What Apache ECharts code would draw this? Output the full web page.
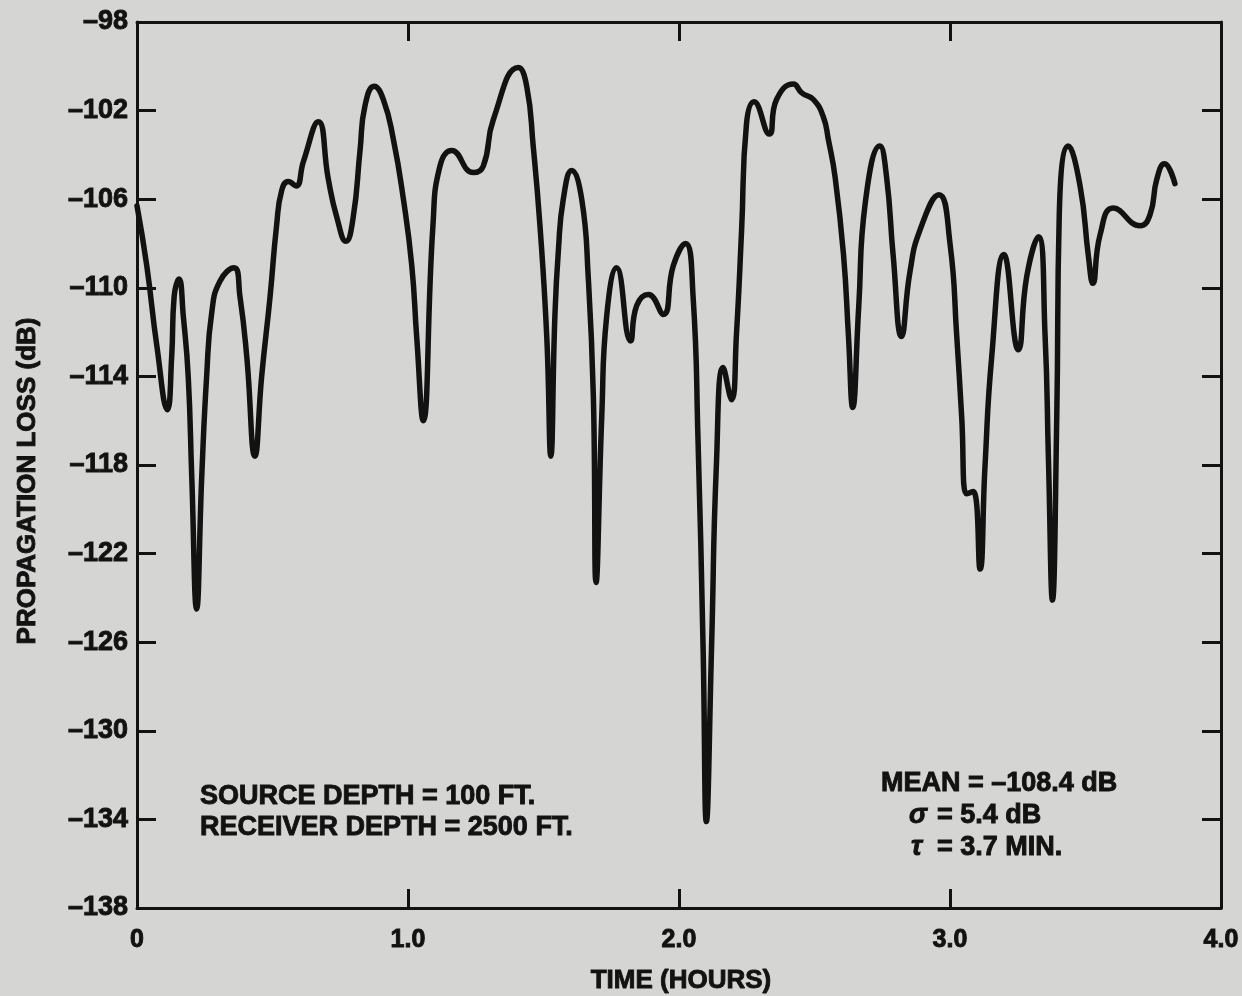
<!DOCTYPE html>
<html>
<head>
<meta charset="utf-8">
<title>Propagation Loss vs Time</title>
<script src="https://cdn.jsdelivr.net/npm/echarts@6/dist/echarts.min.js"></script>
<style>
  html, body { margin: 0; padding: 0; background: #d5d5d3; }
  #chart { width: 1242px; height: 996px; }
</style>
</head>
<body>
<div id="chart"></div>
<script>
// Time axis (hours) and measured propagation loss (dB)
const timeHours = [
  0.000, 0.036, 0.073, 0.112, 0.128, 0.137, 0.155, 0.171, 0.189, 0.202,
  0.220, 0.239, 0.257, 0.276, 0.306, 0.358, 0.380, 0.405, 0.435, 0.460,
  0.491, 0.515, 0.534, 0.558, 0.587, 0.614, 0.669, 0.706, 0.737, 0.771,
  0.798, 0.823, 0.841, 0.875, 0.909, 0.946, 0.983, 1.014, 1.032, 1.056,
  1.092, 1.118, 1.161, 1.241, 1.278, 1.315, 1.407, 1.438, 1.462, 1.487,
  1.512, 1.527, 1.542, 1.555, 1.573, 1.604, 1.641, 1.665, 1.684, 1.694,
  1.715, 1.733, 1.770, 1.821, 1.844, 1.887, 1.942, 1.979, 2.024, 2.052,
  2.070, 2.089, 2.101, 2.120, 2.138, 2.163, 2.194, 2.212, 2.231, 2.249,
  2.277, 2.333, 2.360, 2.422, 2.453, 2.496, 2.533, 2.551, 2.576, 2.607,
  2.625, 2.641, 2.663, 2.687, 2.741, 2.766, 2.790, 2.821, 2.852, 2.889,
  2.959, 3.000, 3.025, 3.043, 3.061, 3.086, 3.111, 3.129, 3.154, 3.199,
  3.252, 3.283, 3.326, 3.351, 3.363, 3.378, 3.394, 3.403, 3.437, 3.480,
  3.511, 3.527, 3.554, 3.603, 3.701, 3.738, 3.763, 3.791, 3.830
];
const lossDb = [
  -106.3, -109.0, -112.6, -115.5, -113.1, -110.4, -109.6, -111.3, -114.0, -118.5,
  -124.5, -118.5, -114.0, -111.1, -109.7, -109.1, -110.4, -113.1, -117.6, -114.0,
  -110.4, -107.2, -105.6, -105.2, -105.4, -104.3, -102.5, -105.1, -106.8, -107.9,
  -106.8, -103.8, -101.8, -100.9, -101.5, -103.3, -106.0, -109.0, -112.2, -116.0,
  -107.2, -104.5, -103.8, -104.8, -104.5, -102.4, -100.05, -100.9, -103.6, -107.2,
  -112.2, -117.6, -111.3, -108.3, -106.0, -104.7, -106.0, -109.5, -114.9, -123.3,
  -115.8, -111.3, -109.1, -112.4, -110.8, -110.3, -111.2, -109.0, -108.0, -110.4,
  -116.8, -126.3, -134.1, -126.3, -118.0, -113.6, -115.05, -112.1, -107.4, -102.6,
  -101.6, -103.06, -101.5, -100.8, -101.2, -101.5, -102.3, -103.3, -105.0, -108.5,
  -112.1, -115.4, -110.9, -106.2, -103.6, -105.0, -108.5, -112.2, -109.3, -107.4,
  -105.8, -108.0, -112.2, -115.8, -119.3, -119.2, -122.7, -118.1, -113.1, -108.5,
  -112.8, -109.5, -107.7, -112.2, -117.6, -124.1, -115.8, -106.8, -103.6, -105.4,
  -108.6, -109.8, -107.6, -106.4, -107.2, -106.7, -105.1, -104.4, -105.3
];

// Tick labels
const xTickLabels = ['0', '1.0', '2.0', '3.0', '4.0'];
const yTickLabels = ['\u2013138', '\u2013134', '\u2013130', '\u2013126', '\u2013122', '\u2013118',
                     '\u2013114', '\u2013110', '\u2013106', '\u2013102', '\u201398'];

// Text blocks
const xAxisTitle = 'TIME (HOURS)';
const yAxisTitle = 'PROPAGATION LOSS (dB)';
const depthLines = ['SOURCE DEPTH = 100 FT.', 'RECEIVER DEPTH = 2500 FT.'];
const statLabels = ['MEAN = \u2013108.4 dB', '\u03c3', '= 5.4 dB', '\u03c4', '= 3.7 MIN.'];

const FONT = '"Liberation Sans", Arial, Helvetica, sans-serif';
const INK = '#121212';

const points = timeHours.map((t, i) => [t, lossDb[i]]);

const frameAxis = {
  axisLine: { show: true, onZero: false, lineStyle: { color: INK, width: 3 } },
  axisTick: { show: true, inside: true, length: 19, lineStyle: { color: INK, width: 3 } },
  splitLine: { show: false }
};

// heavy text: fill plus a thin outline in the same ink
function heavyText(x, y, text, size, extra) {
  return Object.assign({
    type: 'text', x: x, y: y,
    style: {
      text: text, fill: INK, font: 'bold ' + size + 'px ' + FONT,
      stroke: INK, lineWidth: 0.9, textVerticalAlign: 'middle'
    }
  }, extra || {});
}

const chart = echarts.init(document.getElementById('chart'), null, { renderer: 'canvas' });

const graphics = [
  heavyText(681, 981, xAxisTitle, 26),
  heavyText(28, 481, yAxisTitle, 26, { rotation: Math.PI / 2 }),
  heavyText(200, 797, depthLines[0], 27),
  heavyText(200, 828, depthLines[1], 27),
  heavyText(881, 784, statLabels[0], 27),
  heavyText(909, 816, statLabels[1], 27),
  heavyText(937, 816, statLabels[2], 27),
  heavyText(911, 848, statLabels[3], 27),
  heavyText(937, 848, statLabels[4], 27)
];
graphics[0].style.textAlign = 'center';
graphics[1].style.textAlign = 'center';
graphics[5].style.font = 'italic bold 27px ' + FONT;
graphics[7].style.font = 'italic bold 27px ' + FONT;

chart.setOption({
  backgroundColor: '#d5d5d3',
  animation: false,
  grid: { left: 137, right: 21, top: 22, bottom: 88, containLabel: false },
  xAxis: [
    Object.assign({
      type: 'value', position: 'bottom', min: 0, max: 4, interval: 1,
      axisLabel: {
        margin: 20, color: INK, fontFamily: FONT, fontWeight: 'bold', fontSize: 25,
        textBorderColor: INK, textBorderWidth: 0.9,
        formatter: (v) => xTickLabels[Math.round(v)]
      }
    }, frameAxis),
    Object.assign({
      type: 'value', position: 'top', min: 0, max: 4, interval: 1,
      axisLabel: { show: false }
    }, frameAxis)
  ],
  yAxis: [
    Object.assign({
      type: 'value', position: 'left', min: -138, max: -98, interval: 4,
      axisLabel: {
        margin: 9, color: INK, fontFamily: FONT, fontWeight: 'bold', fontSize: 27,
        textBorderColor: INK, textBorderWidth: 0.9,
        formatter: (v) => yTickLabels[Math.round((v + 138) / 4)]
      }
    }, frameAxis),
    Object.assign({
      type: 'value', position: 'right', min: -138, max: -98, interval: 4,
      axisLabel: { show: false }
    }, frameAxis)
  ],
  series: [{
    type: 'line',
    xAxisIndex: 0,
    yAxisIndex: 0,
    data: points,
    showSymbol: false,
    smooth: 0.5,
    lineStyle: { color: INK, width: 5.5, cap: 'round', join: 'round' }
  }],
  graphic: graphics
});
</script>
</body>
</html>
